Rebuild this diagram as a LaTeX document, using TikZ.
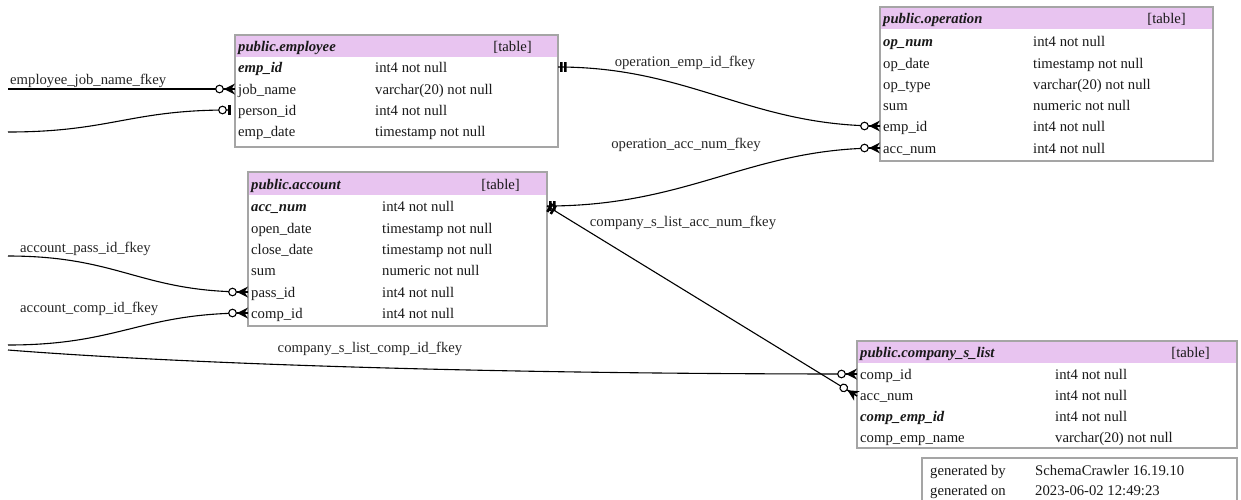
\documentclass[tikz,border=0pt]{standalone}
\usepackage{fontspec}
\setmainfont{Liberation Serif}
\usetikzlibrary{decorations.markings}

\definecolor{hdrpink}{RGB}{232,196,240}
\definecolor{boxgray}{RGB}{165,165,165}
\newcommand\erfont{\fontsize{14.7}{17}\selectfont}

\tikzset{
  tbl/.style={draw=boxgray, line width=1.2pt, fill=white, anchor=north west,
              inner sep=0pt, outer sep=0pt},
  cell/.style={anchor=base west, inner sep=0pt, font=\erfont, text=black!90},
  tag/.style={anchor=base east, inner sep=0pt, font=\erfont, text=black!90},
  lbl/.style={anchor=base, inner sep=0pt, font=\erfont, text=black!85},
  lblw/.style={anchor=base west, inner sep=0pt, font=\erfont, text=black!85},
  fk/.style={line width=1.1pt, black},
  % zero-or-many end: open circle and crow's foot at the table edge
  manyend/.style={postaction={decorate, decoration={markings,
      mark=at position 1 with {
        \draw[line width=1.1pt, fill=white] (-15.5pt,0pt) circle (3.8pt);
        \fill (-11pt,0pt) -- (0pt,5.5pt) -- (-3.5pt,0pt) -- (0pt,-5.5pt) -- cycle;
        \draw[line width=1.3pt] (-11pt,0pt) -- (0pt,0pt);
      }}}},
  % zero-or-one end: open circle and a bar
  optone/.style={postaction={decorate, decoration={markings,
      mark=at position 1 with {
        \draw[line width=1.1pt, fill=white] (-5.5pt,0pt) circle (3.8pt);
        \fill (0pt,-5pt) rectangle (2.6pt,5pt);
      }}}},
  % exactly-one start: two bars next to the referenced table
  onestart/.style={postaction={decorate, decoration={markings,
      mark=at position 0 with {
        \fill (2pt,-4.8pt) rectangle (4.6pt,4.8pt);
        \fill (6pt,-4.8pt) rectangle (8.6pt,4.8pt);
      }}}},
}

\begin{document}
\begin{tikzpicture}[x=1pt,y=-1pt]
\useasboundingbox (0,0) rectangle (1241,499);
\clip (0,0) rectangle (1241,499);

% ---------- public.employee ----------
\node[tbl, minimum width=323pt, minimum height=112pt] (emp) at (235,35) {};
\fill[hdrpink] (235.6,35.6) rectangle (557.4,57);
\node[cell] (emp-h) at (238,51) {\textbf{\textit{public.employee}}};
\node[tag]  (emp-t) at (532,51) {[table]};
\node[cell] (emp-c1) at (238,72)  {\textbf{\textit{emp\_id}}};
\node[cell] (emp-d1) at (375,72)  {int4 not null};
\node[cell] (emp-c2) at (238,94)  {job\_name};
\node[cell] (emp-d2) at (375,94)  {varchar(20) not null};
\node[cell] (emp-c3) at (238,115) {person\_id};
\node[cell] (emp-d3) at (375,115) {int4 not null};
\node[cell] (emp-c4) at (238,136) {emp\_date};
\node[cell] (emp-d4) at (375,136) {timestamp not null};

% ---------- public.operation ----------
\node[tbl, minimum width=333pt, minimum height=154pt] (op) at (880,7) {};
\fill[hdrpink] (880.6,7.6) rectangle (1212.4,29);
\node[cell] (op-h) at (883,23) {\textbf{\textit{public.operation}}};
\node[tag]  (op-t) at (1186,23) {[table]};
\node[cell] (op-c1) at (883,46)  {\textbf{\textit{op\_num}}};
\node[cell] (op-d1) at (1033,46) {int4 not null};
\node[cell] (op-c2) at (883,68)  {op\_date};
\node[cell] (op-d2) at (1033,68) {timestamp not null};
\node[cell] (op-c3) at (883,89)  {op\_type};
\node[cell] (op-d3) at (1033,89) {varchar(20) not null};
\node[cell] (op-c4) at (883,110) {sum};
\node[cell] (op-d4) at (1033,110) {numeric not null};
\node[cell] (op-c5) at (883,131) {emp\_id};
\node[cell] (op-d5) at (1033,131) {int4 not null};
\node[cell] (op-c6) at (883,153) {acc\_num};
\node[cell] (op-d6) at (1033,153) {int4 not null};

% ---------- public.account ----------
\node[tbl, minimum width=299pt, minimum height=154pt] (acc) at (248,172) {};
\fill[hdrpink] (248.6,172.6) rectangle (546.4,195);
\node[cell] (acc-h) at (251,189) {\textbf{\textit{public.account}}};
\node[tag]  (acc-t) at (520,189) {[table]};
\node[cell] (acc-c1) at (251,211) {\textbf{\textit{acc\_num}}};
\node[cell] (acc-d1) at (382,211) {int4 not null};
\node[cell] (acc-c2) at (251,233) {open\_date};
\node[cell] (acc-d2) at (382,233) {timestamp not null};
\node[cell] (acc-c3) at (251,254) {close\_date};
\node[cell] (acc-d3) at (382,254) {timestamp not null};
\node[cell] (acc-c4) at (251,275) {sum};
\node[cell] (acc-d4) at (382,275) {numeric not null};
\node[cell] (acc-c5) at (251,297) {pass\_id};
\node[cell] (acc-d5) at (382,297) {int4 not null};
\node[cell] (acc-c6) at (251,318) {comp\_id};
\node[cell] (acc-d6) at (382,318) {int4 not null};

% ---------- public.company_s_list ----------
\node[tbl, minimum width=380pt, minimum height=107pt] (cs) at (857,341) {};
\fill[hdrpink] (857.6,341.6) rectangle (1236.4,363);
\node[cell] (cs-h) at (860,357) {\textbf{\textit{public.company\_s\_list}}};
\node[tag]  (cs-t) at (1210,357) {[table]};
\node[cell] (cs-c1) at (860,379)  {comp\_id};
\node[cell] (cs-d1) at (1055,379) {int4 not null};
\node[cell] (cs-c2) at (860,400)  {acc\_num};
\node[cell] (cs-d2) at (1055,400) {int4 not null};
\node[cell] (cs-c3) at (860,421)  {\textbf{\textit{comp\_emp\_id}}};
\node[cell] (cs-d3) at (1055,421) {int4 not null};
\node[cell] (cs-c4) at (860,442)  {comp\_emp\_name};
\node[cell] (cs-d4) at (1055,442) {varchar(20) not null};

% ---------- generator info ----------
\node[tbl, minimum width=315pt, minimum height=50pt] (gen) at (922,458) {};
\node[cell] (gen-c1) at (930,475)  {generated by};
\node[cell] (gen-d1) at (1035,475) {SchemaCrawler 16.19.10};
\node[cell] (gen-c2) at (930,495)  {generated on};
\node[cell] (gen-d2) at (1035,495) {2023-06-02 12:49:23};

% ---------- attachment points ----------
\coordinate (emp-jn) at (235,89);
\coordinate (emp-pi) at (228,110);
\coordinate (emp-r)  at (558,67);
\coordinate (op-emp) at (880,126);
\coordinate (op-acc) at (880,148);
\coordinate (acc-r)  at (547,206);
\coordinate (acc-pa) at (248,292);
\coordinate (acc-ci) at (248,313);
\coordinate (cs-ci)  at (857,374);
\coordinate (cs-an)  at (857,396);

% loose ends towards tables outside the view
\coordinate (x-jn) at (8,89);
\coordinate (x-pi) at (8,132);
\coordinate (x-pa) at (8,256);
\coordinate (x-ci) at (8,345);
\coordinate (x-cs) at (8,350);

% ---------- foreign keys ----------
\draw[fk, manyend] (x-jn) -- (emp-jn);
\node[lblw] (l-jn) at (10,84) {employee\_job\_name\_fkey};

\draw[fk, optone] (x-pi) .. controls (110,132) and (130,110) .. (emp-pi);

\draw[fk, onestart, manyend] (emp-r) .. controls (690,67) and (750,126) .. (op-emp);
\node[lbl] (l-oe) at (685,66) {operation\_emp\_id\_fkey};

\draw[fk, onestart, manyend] (acc-r) .. controls (690,206) and (750,148) .. (op-acc);
\node[lbl] (l-oa) at (686,148) {operation\_acc\_num\_fkey};

\draw[fk, onestart, manyend] (acc-r) -- (cs-an);
\node[lbl] (l-ca) at (683,226) {company\_s\_list\_acc\_num\_fkey};

\draw[fk, manyend] (x-pa) .. controls (120,256) and (140,292) .. (acc-pa);
\node[lblw] (l-pa) at (20,252) {account\_pass\_id\_fkey};

\draw[fk, manyend] (x-ci) .. controls (120,345) and (140,313) .. (acc-ci);
\node[lblw] (l-ac) at (20,312) {account\_comp\_id\_fkey};

\draw[fk, manyend] (x-cs) .. controls (160,362) and (450,374) .. (cs-ci);
\node[lbl] (l-cc) at (370,352) {company\_s\_list\_comp\_id\_fkey};
\end{tikzpicture}
\end{document}
